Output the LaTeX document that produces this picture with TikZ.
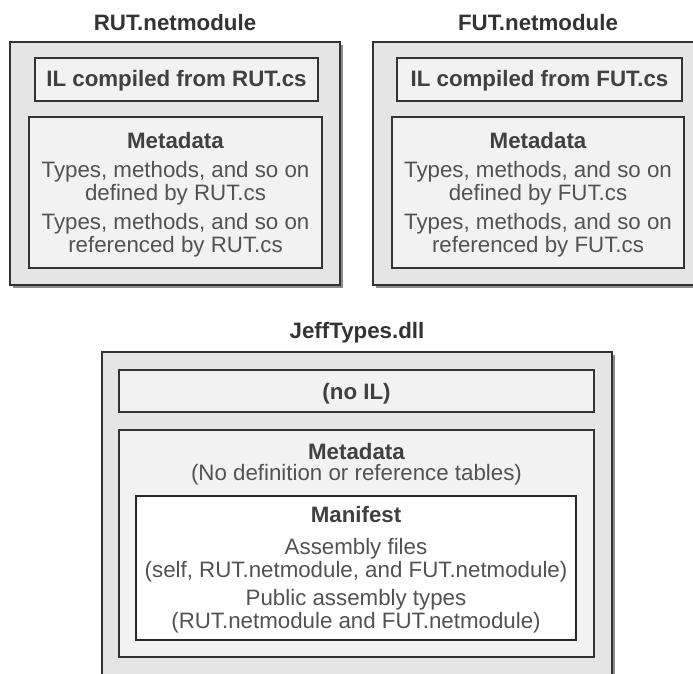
\documentclass[tikz,border=0pt]{standalone}
\usepackage{fontspec}
\setmainfont{Liberation Sans}
\usetikzlibrary{shadows}

\tikzset{
  modbox/.style={draw=black!80,line width=1.6pt,fill=black!10,inner sep=0pt,
    drop shadow={shadow xshift=2.5pt,shadow yshift=-2.5pt,fill=black!45,opacity=1}},
  partbox/.style={draw=black!80,line width=1.6pt,fill=black!5,inner sep=0pt},
  manbox/.style={draw=black!85,line width=1.4pt,fill=white,inner sep=0pt},
  title/.style={font=\bfseries\fontsize{22.3}{23}\selectfont,text=black!80},
  head/.style={font=\bfseries\fontsize{22.3}{23}\selectfont,text=black!75},
  body/.style={font=\fontsize{22.3}{23}\selectfont,text=black!68,align=center},
}

\begin{document}
\begin{tikzpicture}[x=1pt,y=-1pt]
\clip (0,0) rectangle (693,673);

% RUT.netmodule
\node[title] (ruttitle) at (175,23) {RUT.netmodule};
\node[modbox,minimum width=330pt,minimum height=243pt] (rutmod) at (175,163.5) {};
\node[partbox,minimum width=283pt,minimum height=43pt] (rutil) at (176.5,79.5) {};
\node[partbox,minimum width=293pt,minimum height=151pt] (rutmeta) at (175.5,192.5) {};
\node[head] (rutiltext) at (176.5,81) {IL compiled from RUT.cs};
\node[head] (rutmetahead) at (175.5,141) {Metadata};
\node[body] (rutdef) at (175.5,183.5) {Types, methods, and so on\\defined by RUT.cs};
\node[body] (rutref) at (175.5,235.5) {Types, methods, and so on\\referenced by RUT.cs};

% FUT.netmodule
\node[title] (futtitle) at (538,23) {FUT.netmodule};
\node[modbox,minimum width=330pt,minimum height=243pt] (futmod) at (538,163.5) {};
\node[partbox,minimum width=285pt,minimum height=43pt] (futil) at (539.5,79.5) {};
\node[partbox,minimum width=292pt,minimum height=151pt] (futmeta) at (538,192.5) {};
\node[head] (futiltext) at (539.5,81) {IL compiled from FUT.cs};
\node[head] (futmetahead) at (538,141) {Metadata};
\node[body] (futdef) at (538,183.5) {Types, methods, and so on\\defined by FUT.cs};
\node[body] (futref) at (538,235.5) {Types, methods, and so on\\referenced by FUT.cs};

% JeffTypes.dll
\node[title] (jefftitle) at (357,333) {JeffTypes.dll};
\node[modbox,minimum width=510pt,minimum height=333pt] (jeffmod) at (357,518.5) {};
\node[partbox,minimum width=475pt,minimum height=42pt] (jeffil) at (356.5,391) {};
\node[partbox,minimum width=475pt,minimum height=227pt] (jeffmeta) at (356.5,543.5) {};
\node[manbox,minimum width=440pt,minimum height=144pt] (jeffman) at (356,568) {};
\node[head] (jeffiltext) at (356.5,394) {(no IL)};
\node[body] (jeffmetatext) at (356.5,464.5) {{\bfseries\color{black!75}Metadata}\\[-2pt](No definition or reference tables)};
\node[head] (jeffmanhead) at (356,515) {Manifest};
\node[body] (jefffiles) at (356,560) {Assembly files\\(self, RUT.netmodule, and FUT.netmodule)};
\node[body] (jefftypes) at (356,611.5) {Public assembly types\\(RUT.netmodule and FUT.netmodule)};
\end{tikzpicture}
\end{document}
